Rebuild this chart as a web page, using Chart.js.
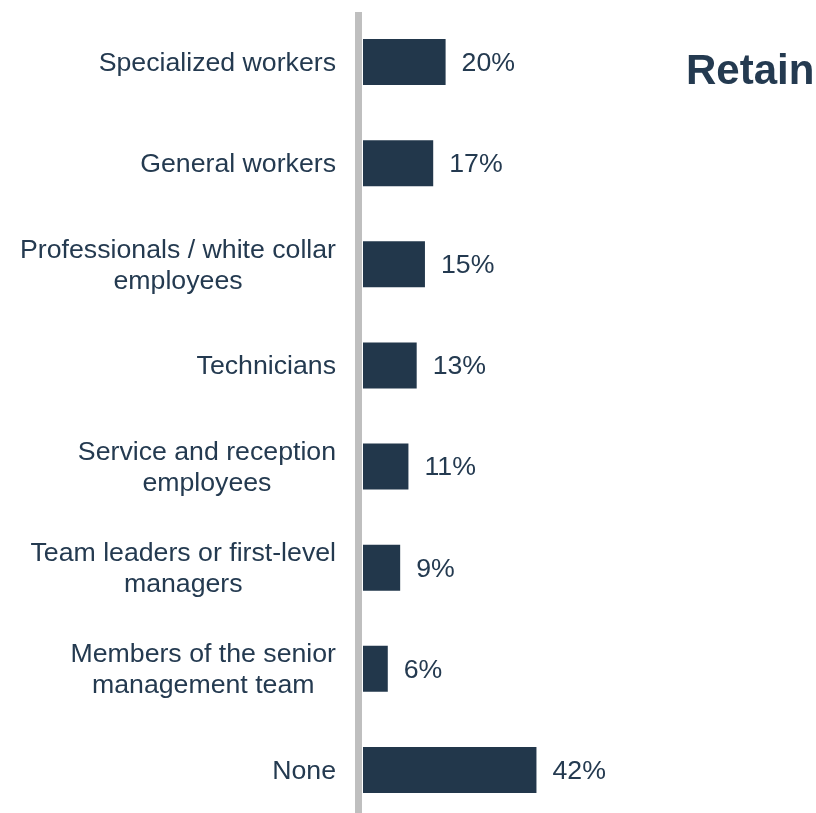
<!DOCTYPE html>
<html>
<head>
<meta charset="utf-8">
<title>Retain</title>
<script src="https://cdn.jsdelivr.net/npm/chart.js@4/dist/chart.umd.min.js"></script>
<style>
  html, body { margin: 0; padding: 0; background: #ffffff; overflow: hidden; }
  #retainChart { display: block; }
</style>
</head>
<body>
<canvas id="retainChart" width="816" height="813"></canvas>
<script>
// Employee groups (multi-line labels) and share of answers, in %
const categories = [
  ["Specialized workers"],
  ["General workers"],
  ["Professionals / white collar", "employees"],
  ["Technicians"],
  ["Service and reception", "employees"],
  ["Team leaders or first-level", "managers"],
  ["Members of the senior", "management team"],
  ["None"],
];
const shares = [20, 17, 15, 13, 11, 9, 6, 42];
const chartTitle = "Retain";

const BAR_COLOR = "#22374b";
const TEXT_COLOR = "#243a50";
const AXIS_COLOR = "#bfbfbf";
const FONT_FAMILY = '"Liberation Sans", Arial, Helvetica, sans-serif';

// Draws the gray axis bar, category labels, value labels and the heading
const labelPlugin = {
  id: "labelPlugin",
  beforeDatasetsDraw(chart) {
    const ctx = chart.ctx;
    const x0 = chart.scales.x.getPixelForValue(0);
    ctx.save();
    ctx.fillStyle = AXIS_COLOR;
    ctx.fillRect(x0 - 8, 12, 7, chart.height - 12);
    ctx.restore();
  },
  afterDatasetsDraw(chart) {
    const ctx = chart.ctx;
    const xScale = chart.scales.x;
    const yScale = chart.scales.y;
    const x0 = xScale.getPixelForValue(0);
    const lineHeight = 31;

    ctx.save();
    ctx.fillStyle = TEXT_COLOR;
    ctx.font = `26.7px ${FONT_FAMILY}`;
    ctx.textBaseline = "middle";

    categories.forEach((lines, i) => {
      const y = yScale.getPixelForValue(i);
      const widest = Math.max(...lines.map((t) => ctx.measureText(t).width));
      const cx = x0 - 27 - widest / 2;
      const startY = y - ((lines.length - 1) * lineHeight) / 2;
      ctx.textAlign = "center";
      lines.forEach((t, j) => ctx.fillText(t, cx, startY + j * lineHeight + 1.5));

      // value next to the bar end
      ctx.textAlign = "left";
      ctx.fillText(`${shares[i]}%`, xScale.getPixelForValue(shares[i]) + 16, y + 1.5);
    });

    ctx.font = `bold 42px ${FONT_FAMILY}`;
    ctx.textAlign = "left";
    ctx.textBaseline = "alphabetic";
    ctx.fillText(chartTitle, 686, 84);
    ctx.restore();
  },
};

new Chart(document.getElementById("retainChart").getContext("2d"), {
  type: "bar",
  data: {
    labels: categories,
    datasets: [
      {
        data: shares,
        backgroundColor: BAR_COLOR,
        borderWidth: 0,
        barPercentage: 0.455,
        categoryPercentage: 1,
        clip: false,
      },
    ],
  },
  options: {
    indexAxis: "y",
    responsive: false,
    animation: false,
    layout: {
      padding: { left: 363, right: 40, top: 62, bottom: 43 },
    },
    scales: {
      x: { display: false, min: 0, max: 100 },
      y: { display: false, offset: false },
    },
    plugins: {
      legend: { display: false },
      tooltip: { enabled: false },
    },
  },
  plugins: [labelPlugin],
});
</script>
</body>
</html>
